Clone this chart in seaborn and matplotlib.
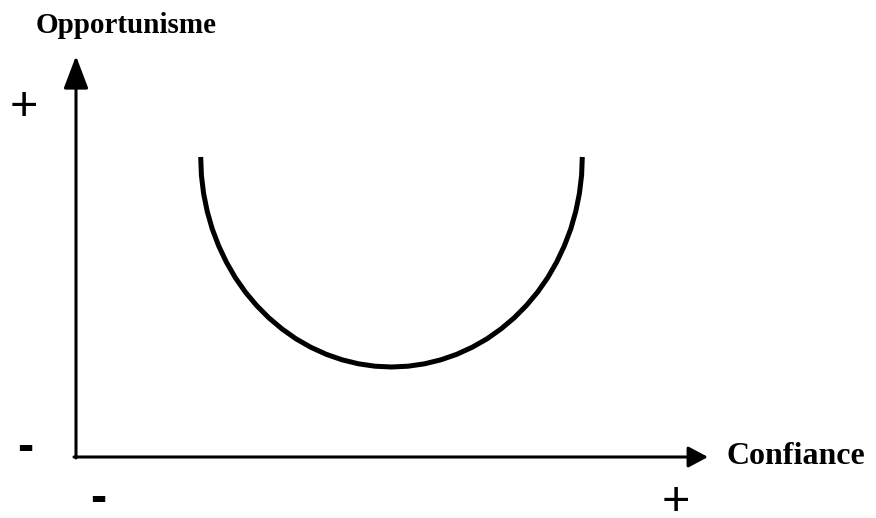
import numpy as np
import pandas as pd
import matplotlib
matplotlib.use('Agg')
import matplotlib.pyplot as plt
import seaborn as sns

# courbe en U (unites = pixels depuis l'origine des axes)
confiance = [124.7, 125.4, 127.6, 131.2, 136.2, 142.6, 150.3, 159.2, 169.3, 180.6,
             192.9, 206.1, 220.1, 234.9, 250.2, 266.1, 282.4, 298.9, 315.5,
             332.1, 348.6, 364.9, 380.8, 396.1, 410.9, 424.9, 438.1, 450.4,
             461.7, 471.8, 480.7, 488.4, 494.8, 499.8, 503.4, 505.6, 506.3]
opportunisme = [300.0, 281.7, 263.5, 245.7, 228.2, 211.3, 195.0, 179.5, 165.0, 151.5,
                139.1, 128.0, 118.1, 109.7, 102.7, 97.2, 93.2, 90.8, 90.0,
                90.8, 93.2, 97.2, 102.7, 109.7, 118.1, 128.0, 139.1, 151.5,
                165.0, 179.5, 195.0, 211.3, 228.2, 245.7, 263.5, 281.7, 300.0]

x_label = 'Confiance'
y_label = 'Opportunisme'

sns.set_style('white')
plt.rcParams['font.family'] = ['Liberation Serif', 'DejaVu Serif']
plt.rcParams['text.color'] = 'black'

df = pd.DataFrame({'confiance': confiance, 'opportunisme': opportunisme})

fig = plt.figure(figsize=(8.76, 5.18), dpi=100)
ax = fig.add_axes([0, 0, 1, 1])
ax.set_xlim(-76, 800)
ax.set_ylim(-61, 457)
ax.axis('off')

sns.lineplot(data=df, x='confiance', y='opportunisme', sort=False,
             color='black', linewidth=3.6, ax=ax, solid_capstyle='butt')

# axes avec fleches
ax.annotate('', xy=(632, 0), xytext=(-2, 0),
            arrowprops=dict(arrowstyle='-|>,head_length=0.6,head_width=0.32',
                            color='black', lw=2.2, mutation_scale=20, shrinkA=0, shrinkB=0))
ax.annotate('', xy=(0, 401), xytext=(0, -1),
            arrowprops=dict(arrowstyle='-|>,head_length=1.0,head_width=0.38',
                            color='black', lw=2.2, mutation_scale=20, shrinkA=0, shrinkB=0))

ax.text(50.5, 424, y_label, fontsize=21, fontweight='bold', ha='center', va='baseline')
ax.text(651, -7, x_label, fontsize=23, fontweight='bold', ha='left', va='baseline')

signes = dict(family=['Liberation Sans', 'DejaVu Sans'], fontsize=35, ha='center', va='baseline')
ax.text(-52.5, 337, '+', **signes)
ax.text(600, -58, '+', **signes)
ax.text(-51, -3.7, '-', fontweight='bold', **signes)
ax.text(22.3, -54.7, '-', fontweight='bold', **signes)

plt.savefig('out.png', dpi=100)
